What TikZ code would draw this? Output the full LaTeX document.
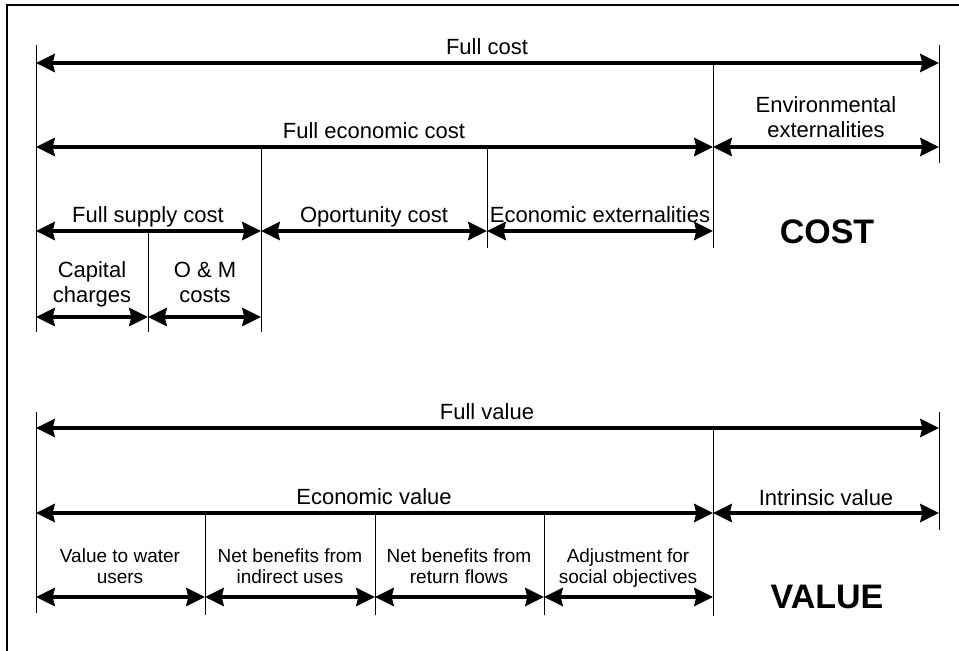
\documentclass[tikz,border=0pt]{standalone}
\usepackage{fontspec}
\setmainfont{Liberation Sans}
\usetikzlibrary{arrows.meta}
\begin{document}
\begin{tikzpicture}[x=0.75pt,y=-0.75pt,
    dim/.style={line width=3.4pt,{Stealth[length=14pt,width=13.5pt,inset=1.5pt]}-{Stealth[length=14pt,width=13.5pt,inset=1.5pt]}},
    tick/.style={line width=0.75pt},
    lab/.style={anchor=base,inner sep=0pt,align=center,font=\fontsize{16.5}{18.75}\selectfont},
    sublab/.style={anchor=base,inner sep=0pt,align=center,font=\fontsize{14.25}{15.75}\selectfont},
    big/.style={anchor=base,inner sep=0pt,font=\fontsize{25.5}{30}\selectfont\bfseries}]
  \useasboundingbox (0,0) rectangle (959,650);
  % frame
  \draw[line width=1.5pt] (7,651) -- (7,5) -- (960,5);

  % cost: ticks
  \draw[tick] (36,45) -- (36,332);
  \draw[tick] (939,45) -- (939,163);
  \draw[tick] (713,65) -- (713,248);
  \draw[tick] (261,148) -- (261,332);
  \draw[tick] (487,148) -- (487,248);
  \draw[tick] (148,232) -- (148,332);

  % cost: arrow ends
  \coordinate (c0) at (36,63);
  \coordinate (c1) at (939,63);
  \coordinate (c2) at (36,147);
  \coordinate (c3) at (713,147);
  \coordinate (c4) at (939,147);
  \coordinate (c5) at (36,231);
  \coordinate (c6) at (261,231);
  \coordinate (c7) at (487,231);
  \coordinate (c8) at (713,231);
  \coordinate (c9) at (36,317);
  \coordinate (c10) at (148,317);
  \coordinate (c11) at (261,317);
  \draw[dim](c0) -- (c1);
  \draw[dim](c2) -- (c3);
  \draw[dim](c3) -- (c4);
  \draw[dim](c5) -- (c6);
  \draw[dim](c6) -- (c7);
  \draw[dim](c7) -- (c8);
  \draw[dim](c9) -- (c10);
  \draw[dim](c10) -- (c11);

  % cost: labels (base = last line)
  \node[lab] (cl0) at (487,54) {Full cost};
  \node[lab] (cl1) at (374,138) {Full economic cost};
  \node[lab] (cl2) at (826,137) {Environmental\\externalities};
  \node[lab] (cl3) at (148,222) {Full supply cost};
  \node[lab] (cl4) at (374,222) {Oportunity cost};
  \node[lab] (cl5) at (600,222) {Economic externalities};
  \node[lab] (cl6) at (92,302) {Capital\\charges};
  \node[lab] (cl7) at (205,302) {O \& M\\costs};
  \node[big] (cl8) at (827,243) {COST};

  % value: ticks
  \draw[tick] (36,412) -- (36,613);
  \draw[tick] (939,412) -- (939,530);
  \draw[tick] (713,430) -- (713,616);
  \draw[tick] (205,515) -- (205,615);
  \draw[tick] (375,515) -- (375,615);
  \draw[tick] (544,515) -- (544,615);

  % value: arrow ends
  \coordinate (v0) at (36,428);
  \coordinate (v1) at (939,428);
  \coordinate (v2) at (36,513);
  \coordinate (v3) at (713,513);
  \coordinate (v4) at (939,513);
  \coordinate (v5) at (36,597);
  \coordinate (v6) at (205,597);
  \coordinate (v7) at (375,597);
  \coordinate (v8) at (544,597);
  \coordinate (v9) at (713,597);
  \draw[dim](v0) -- (v1);
  \draw[dim](v2) -- (v3);
  \draw[dim](v3) -- (v4);
  \draw[dim](v5) -- (v6);
  \draw[dim](v6) -- (v7);
  \draw[dim](v7) -- (v8);
  \draw[dim](v8) -- (v9);

  % value: labels
  \node[lab] (vl0) at (487,419) {Full value};
  \node[lab] (vl1) at (374,504) {Economic value};
  \node[lab] (vl2) at (826,505) {Intrinsic value};
  \node[sublab] (vl3) at (120,583) {Value to water\\users};
  \node[sublab] (vl4) at (290,583) {Net benefits from\\indirect uses};
  \node[sublab] (vl5) at (459,583) {Net benefits from\\return flows};
  \node[sublab] (vl6) at (628,583) {Adjustment for\\social objectives};
  \node[big] (vl7) at (827,608) {VALUE};
\end{tikzpicture}
\end{document}
